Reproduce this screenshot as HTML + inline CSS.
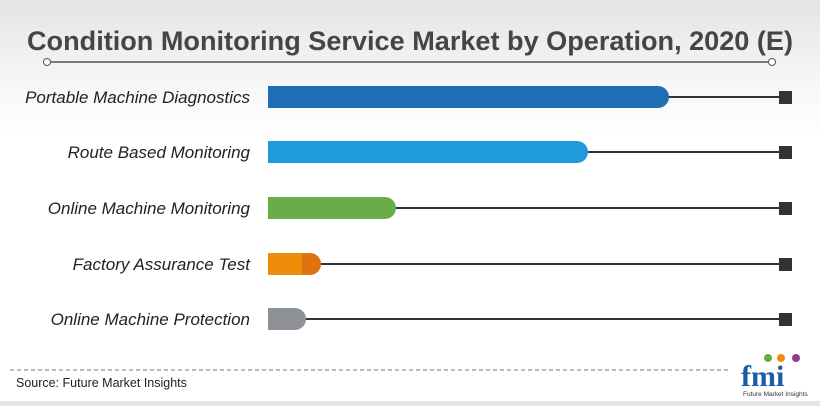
<!DOCTYPE html>
<html><head><style>
body{margin:0;width:820px;height:401px;overflow:hidden;background:linear-gradient(#e4e4e4 0px,#f6f6f6 80px,#fff 140px,#fff);font-family:"Liberation Sans",sans-serif;}
</style></head><body>
<svg width="820" height="401" xmlns="http://www.w3.org/2000/svg">
<text x="27" y="50" font-size="27" font-weight="bold" fill="#454545" textLength="766" lengthAdjust="spacingAndGlyphs">Condition Monitoring Service Market by Operation, 2020 (E)</text>
<line x1="48" y1="62" x2="772" y2="62" stroke="#555" stroke-width="1.5"/>
<circle cx="47" cy="62" r="3.5" fill="#fff" stroke="#555"/>
<circle cx="772" cy="62" r="3.5" fill="#fff" stroke="#555"/>
<g font-size="17" font-style="italic" fill="#222" text-anchor="end">
<text x="250" y="103">Portable Machine Diagnostics</text>
<text x="250" y="158">Route Based Monitoring</text>
<text x="250" y="214">Online Machine Monitoring</text>
<text x="250" y="270">Factory Assurance Test</text>
<text x="250" y="325">Online Machine Protection</text>
</g>
<g stroke="#333" stroke-width="2">
<line x1="660" y1="97" x2="786" y2="97"/>
<line x1="580" y1="152" x2="786" y2="152"/>
<line x1="390" y1="208" x2="786" y2="208"/>
<line x1="315" y1="264" x2="786" y2="264"/>
<line x1="300" y1="319" x2="786" y2="319"/>
</g>
<g fill="#333">
<rect x="779" y="91" width="13" height="13"/>
<rect x="779" y="146" width="13" height="13"/>
<rect x="779" y="202" width="13" height="13"/>
<rect x="779" y="258" width="13" height="13"/>
<rect x="779" y="313" width="13" height="13"/>
</g>
<path d="M268 86H658a11 11 0 0 1 0 22H268Z" fill="#1f6db5"/>
<path d="M268 141H577a11 11 0 0 1 0 22H268Z" fill="#1f9bd9"/>
<path d="M268 197H385a11 11 0 0 1 0 22H268Z" fill="#6aac46"/>
<path d="M268 253H310a11 11 0 0 1 0 22H268Z" fill="#f08c0a"/>
<path d="M302 253H310a11 11 0 0 1 0 22H302Z" fill="#dd7410"/>
<path d="M268 308H295a11 11 0 0 1 0 22H268Z" fill="#8e9297"/>
<line x1="10" y1="370" x2="730" y2="370" stroke="#777" stroke-dasharray="4,3"/>
<text x="16" y="387" font-size="12.5" fill="#222">Source: Future Market Insights</text>
<text x="741" y="386" font-size="30" font-weight="bold" fill="#1a5ea8" font-family="Liberation Serif,serif">fmi</text>
<circle cx="768" cy="358" r="4" fill="#6aac46"/><circle cx="781" cy="358" r="4" fill="#f08c0a"/><circle cx="796" cy="358" r="4" fill="#8e3f8f"/>
<text x="743" y="396" font-size="6.5" fill="#333">Future Market Insights</text>
</svg>
</body></html>
